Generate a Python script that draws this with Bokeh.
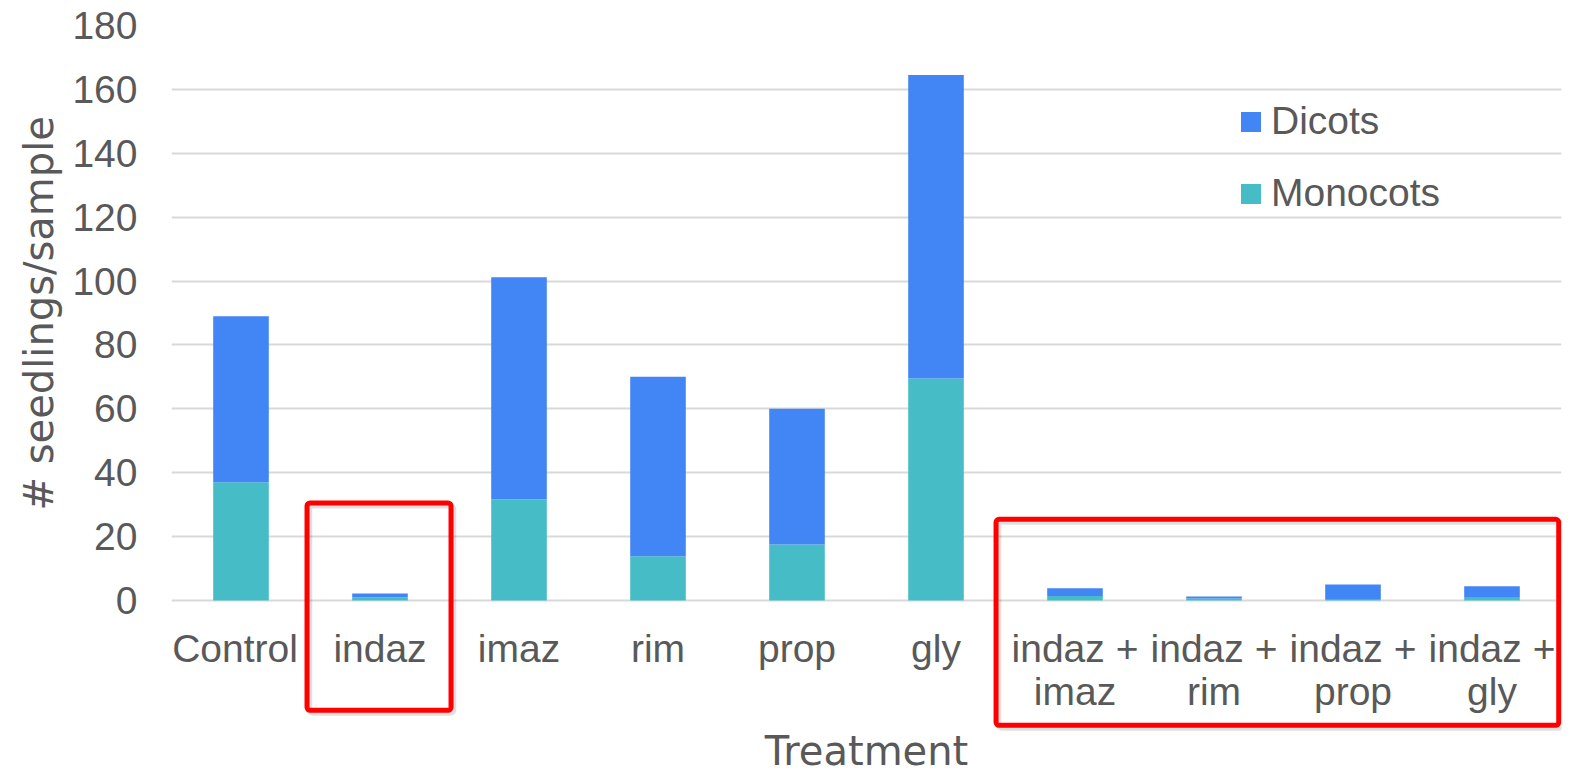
from bokeh.plotting import figure
from bokeh.models import ColumnDataSource, FactorRange, Legend, LegendItem, BoxAnnotation, Title
from bokeh.core.properties import value
from bokeh.embed import file_html
from bokeh.resources import INLINE

treatments = ["Control", "indaz", "imaz", "rim", "prop", "gly",
              "indaz +\nimaz", "indaz +\nrim", "indaz +\nprop", "indaz +\ngly"]
monocots = [37.0, 1.0, 31.6, 13.8, 17.5, 69.5, 1.4, 0.6, 0.2, 0.8]
dicots = [52.0, 1.2, 69.6, 56.2, 42.5, 95.0, 2.4, 0.6, 4.8, 3.6]
y_ticks = [0, 20, 40, 60, 80, 100, 120, 140, 160, 180]
x_title = "Treatment"
y_title = "# seedlings/sample"

TEXT = "#595959"
FONT = "Liberation Sans"
TITLE_FONT = "DejaVu Sans"
BLUE = "#4285F4"
TEAL = "#46BDC6"
GRID = "#D9D9D9"
RED = "#FF0000"

src = ColumnDataSource(dict(cat=treatments, Monocots=monocots, Dicots=dicots,
                            zero=[0] * len(treatments),
                            shift=[-6] + [0] * (len(treatments) - 1)))

# the frame reaches down to the bottom of the page so the highlight frames are not clipped;
# the value axis keeps 0..180 over the upper 575 px
p = figure(x_range=FactorRange(*treatments), y_range=(-54.5, 180),
           frame_width=1390, frame_height=749,
           output_backend="svg", toolbar_location=None,
           min_border_left=171, min_border_top=25, min_border_right=10, min_border_bottom=0)
p.outline_line_color = None
p.background_fill_color = "white"

rs = p.vbar_stack(["Monocots", "Dicots"], x="cat", width=0.4, color=[TEAL, BLUE],
                  source=src, line_color=None)

# category labels under the baseline
p.text(x="cat", y="zero", text="cat", source=src, x_offset="shift", y_offset=27,
       text_align="center", text_baseline="top", text_line_height=1.0,
       text_font=value(FONT), text_font_size="39px", text_color=TEXT)
# x-axis title
p.text(x=[len(treatments) / 2], y=[0], text=[x_title], y_offset=151,
       text_align="center", text_baseline="alphabetic",
       text_font=value(TITLE_FONT), text_font_size="40px", text_color=TEXT)

legend = Legend(items=[LegendItem(label="Dicots", renderers=[rs[1]]),
                       LegendItem(label="Monocots", renderers=[rs[0]])],
                location=(1067, 559), glyph_width=25, glyph_height=25,
                label_text_font_size="39px", label_text_font=FONT, label_text_color=TEXT,
                spacing=28, padding=0, margin=0, border_line_alpha=0,
                background_fill_alpha=0, label_standoff=8)
p.add_layout(legend)

# red highlight frames (left, right, top, bottom in axis units)
highlights = [(0.975, 2.011, 30.5, -34.4), (5.932, 9.98, 25.4, -39.1)]
for (l, r, t, b) in highlights:
    p.add_layout(BoxAnnotation(left=l + 0.02, right=r + 0.02, top=t - 0.9, bottom=b - 0.9,
                               fill_alpha=0, line_color="black", line_alpha=0.12,
                               line_width=5, border_radius=3))
    p.add_layout(BoxAnnotation(left=l, right=r, top=t, bottom=b, fill_alpha=0,
                               line_color=RED, line_alpha=1, line_width=5, border_radius=3))

p.xaxis.visible = False
p.xgrid.grid_line_color = None
p.ygrid.grid_line_color = GRID
p.ygrid.grid_line_width = 2
p.yaxis.ticker = y_ticks

p.yaxis.axis_line_color = None
p.yaxis.major_tick_line_color = None
p.yaxis.minor_tick_line_color = None
p.yaxis.major_tick_out = 0
p.yaxis.major_label_standoff = 34
p.yaxis.major_label_text_font_size = "39px"
p.yaxis.major_label_text_font = FONT
p.yaxis.major_label_text_color = TEXT

# value-axis title, starting from the bottom of the left panel and lifted to sit beside 0..180
p.add_layout(Title(text=y_title, align="left", offset=264, standoff=16,
                   text_font=TITLE_FONT, text_font_size="40px", text_font_style="normal",
                   text_color=TEXT), "left")

open("out.html", "w").write(file_html(p, INLINE))
